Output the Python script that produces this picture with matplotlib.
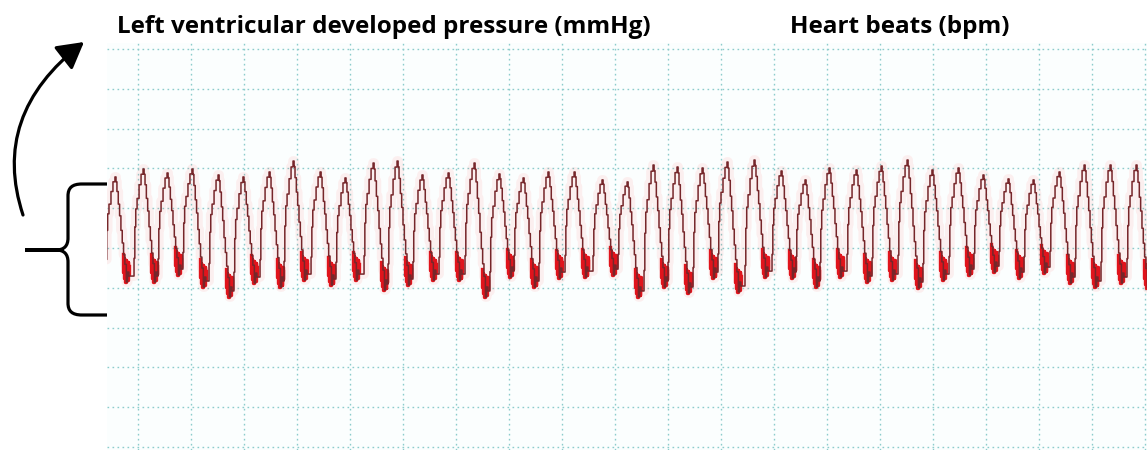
import matplotlib
matplotlib.use("Agg")
import matplotlib.pyplot as plt
import numpy as np
from matplotlib.path import Path
from matplotlib.patches import PathPatch, FancyArrowPatch

# beat-by-beat readings of the LV pressure trace
peak_time_s = [0.060, 0.272, 0.453, 0.641, 0.838, 1.026, 1.223, 1.404, 1.608,
               1.796, 2.008, 2.189, 2.377, 2.574, 2.770, 2.958, 3.140, 3.328,
               3.525, 3.736, 3.925, 4.121, 4.302, 4.491, 4.679, 4.883, 5.087,
               5.268, 5.449, 5.653, 5.842, 6.038, 6.226, 6.423, 6.611, 6.800,
               6.989, 7.185, 7.374, 7.570, 7.766]
systolic_mmHg = [135.7, 139.7, 137.7, 139.7, 136.7, 135.7, 138.2, 143.7, 138.2,
                 135.2, 142.7, 143.7, 136.7, 137.7, 142.7, 137.2, 135.2, 138.2,
                 138.2, 134.2, 133.2, 141.7, 140.7, 140.2, 143.2, 144.2, 138.7,
                 134.2, 140.2, 139.2, 141.2, 144.2, 139.2, 140.2, 136.7, 134.7,
                 134.2, 138.2, 141.7, 141.7, 141.7]
diastolic_mmHg = [82.9, 82.9, 86.4, 80.4, 75.4, 82.4, 80.4, 83.9, 81.4,
                  83.9, 78.9, 81.4, 83.9, 83.9, 75.4, 85.4, 80.4, 84.9,
                  85.4, 86.4, 75.4, 80.4, 77.4, 84.9, 77.9, 85.4, 84.9,
                  80.4, 85.4, 82.9, 83.9, 79.9, 83.9, 86.4, 87.9, 84.9,
                  87.4, 82.4, 80.4, 82.4, 79.9]

# stepped beat outline: (ms from systolic peak, fraction of pulse amplitude)
rise_shape = [(-68, 0.15), (-62, 0.45), (-55, 0.62), (-45, 0.72),
              (-30, 0.85), (-15, 0.95), (0, 1.0)]
fall_shape = [(8, 0.95), (15, 0.85), (25, 0.72), (35, 0.60), (45, 0.45),
              (55, 0.32), (65, 0.20), (75, 0.10)]
# diastolic floor: (ms from peak, mmHg above minimum)
floor_shape = [(86, 0.0), (95, 5.0), (105, 3.0)]
# noisy diastolic segment, drawn bright red
noise_shape = [(58, 14), (62, 5), (66, 12), (70, 2), (74, 10), (78, 0),
               (82, 11), (86, 3), (90, 9), (94, 1), (98, 10), (102, 4),
               (106, 8)]

T_END = 7.849
P_LOW, P_HIGH = -1.5, 203.0

t_pts, p_pts = [], []
for i, (tp, pk, tr) in enumerate(zip(peak_time_s, systolic_mmHg, diastolic_mmHg)):
    base_up = (diastolic_mmHg[i - 1] if i > 0 else tr) + 4
    for off, f in rise_shape:
        t_pts.append(tp + off / 1000)
        p_pts.append(base_up + f * (pk - base_up))
    base_dn = tr + 4
    for off, f in fall_shape:
        t_pts.append(tp + off / 1000)
        p_pts.append(base_dn + f * (pk - base_dn))
    for off, d in floor_shape:
        t_pts.append(tp + off / 1000)
        p_pts.append(tr + d)

fig = plt.figure(figsize=(11.47, 4.5), dpi=100)
fig.patch.set_facecolor("white")

ax = fig.add_axes([107 / 1147, 0, 1040 / 1147, 407 / 450])
ax.set_facecolor("#fbfefe")
ax.set_xlim(0, T_END)
ax.set_ylim(P_LOW, P_HIGH)
ax.set_xticks(np.arange(0.234, T_END, 0.4))
ax.set_yticks(np.arange(0, 201, 20))
ax.grid(True, color="#8ccccc", lw=1.0, ls=(0, (1.2, 2.4)))
ax.tick_params(length=0, labelbottom=False, labelleft=False)
for s in ax.spines.values():
    s.set_visible(False)

ax.plot(t_pts, p_pts, color="#ff3030", lw=7, alpha=0.07,
        drawstyle="steps-post", solid_capstyle="butt")
for tp, tr in zip(peak_time_s, diastolic_mmHg):
    ax.plot([tp + o / 1000 for o, _ in noise_shape],
            [tr + d for _, d in noise_shape],
            color="#e0141c", lw=2.4, drawstyle="steps-post")
ax.plot(t_pts, p_pts, color="#76262a", lw=1.1, drawstyle="steps-post")

# overlay in pixel units for labels, brace and arrow
ov = fig.add_axes([0, 0, 1, 1])
ov.set_xlim(0, 1147)
ov.set_ylim(450, 0)
ov.axis("off")

ov.text(117, 27, "Left ventricular developed pressure (mmHg)", fontsize=17.5,
        fontweight="bold", family="Open Sans", va="center", ha="left")
ov.text(790, 27, "Heart beats (bpm)", fontsize=17.5,
        fontweight="bold", family="Open Sans", va="center", ha="left")

M, L, C = Path.MOVETO, Path.LINETO, Path.CURVE4
brace = Path(
    [(107, 184), (82, 184), (72, 184), (68, 188), (68, 196), (68, 238),
     (68, 246), (64, 250), (56, 250), (25, 250),
     (25, 250), (56, 250), (64, 250), (68, 254), (68, 262), (68, 303),
     (68, 311), (72, 315), (82, 315), (107, 315)],
    [M, L, C, C, C, L, C, C, C, L,
     M, L, C, C, C, L, C, C, C, L])
ov.add_patch(PathPatch(brace, fill=False, lw=2.3, color="black",
                       capstyle="butt", joinstyle="round"))

arc = Path([(23, 215), (-10, 115), (84, 42)],
           [Path.MOVETO, Path.CURVE3, Path.CURVE3])
ov.add_patch(FancyArrowPatch(path=arc, arrowstyle="-|>,head_length=0.8,head_width=0.45",
                             mutation_scale=20, lw=2.3, color="black"))

fig.savefig("out.png", dpi=100)
